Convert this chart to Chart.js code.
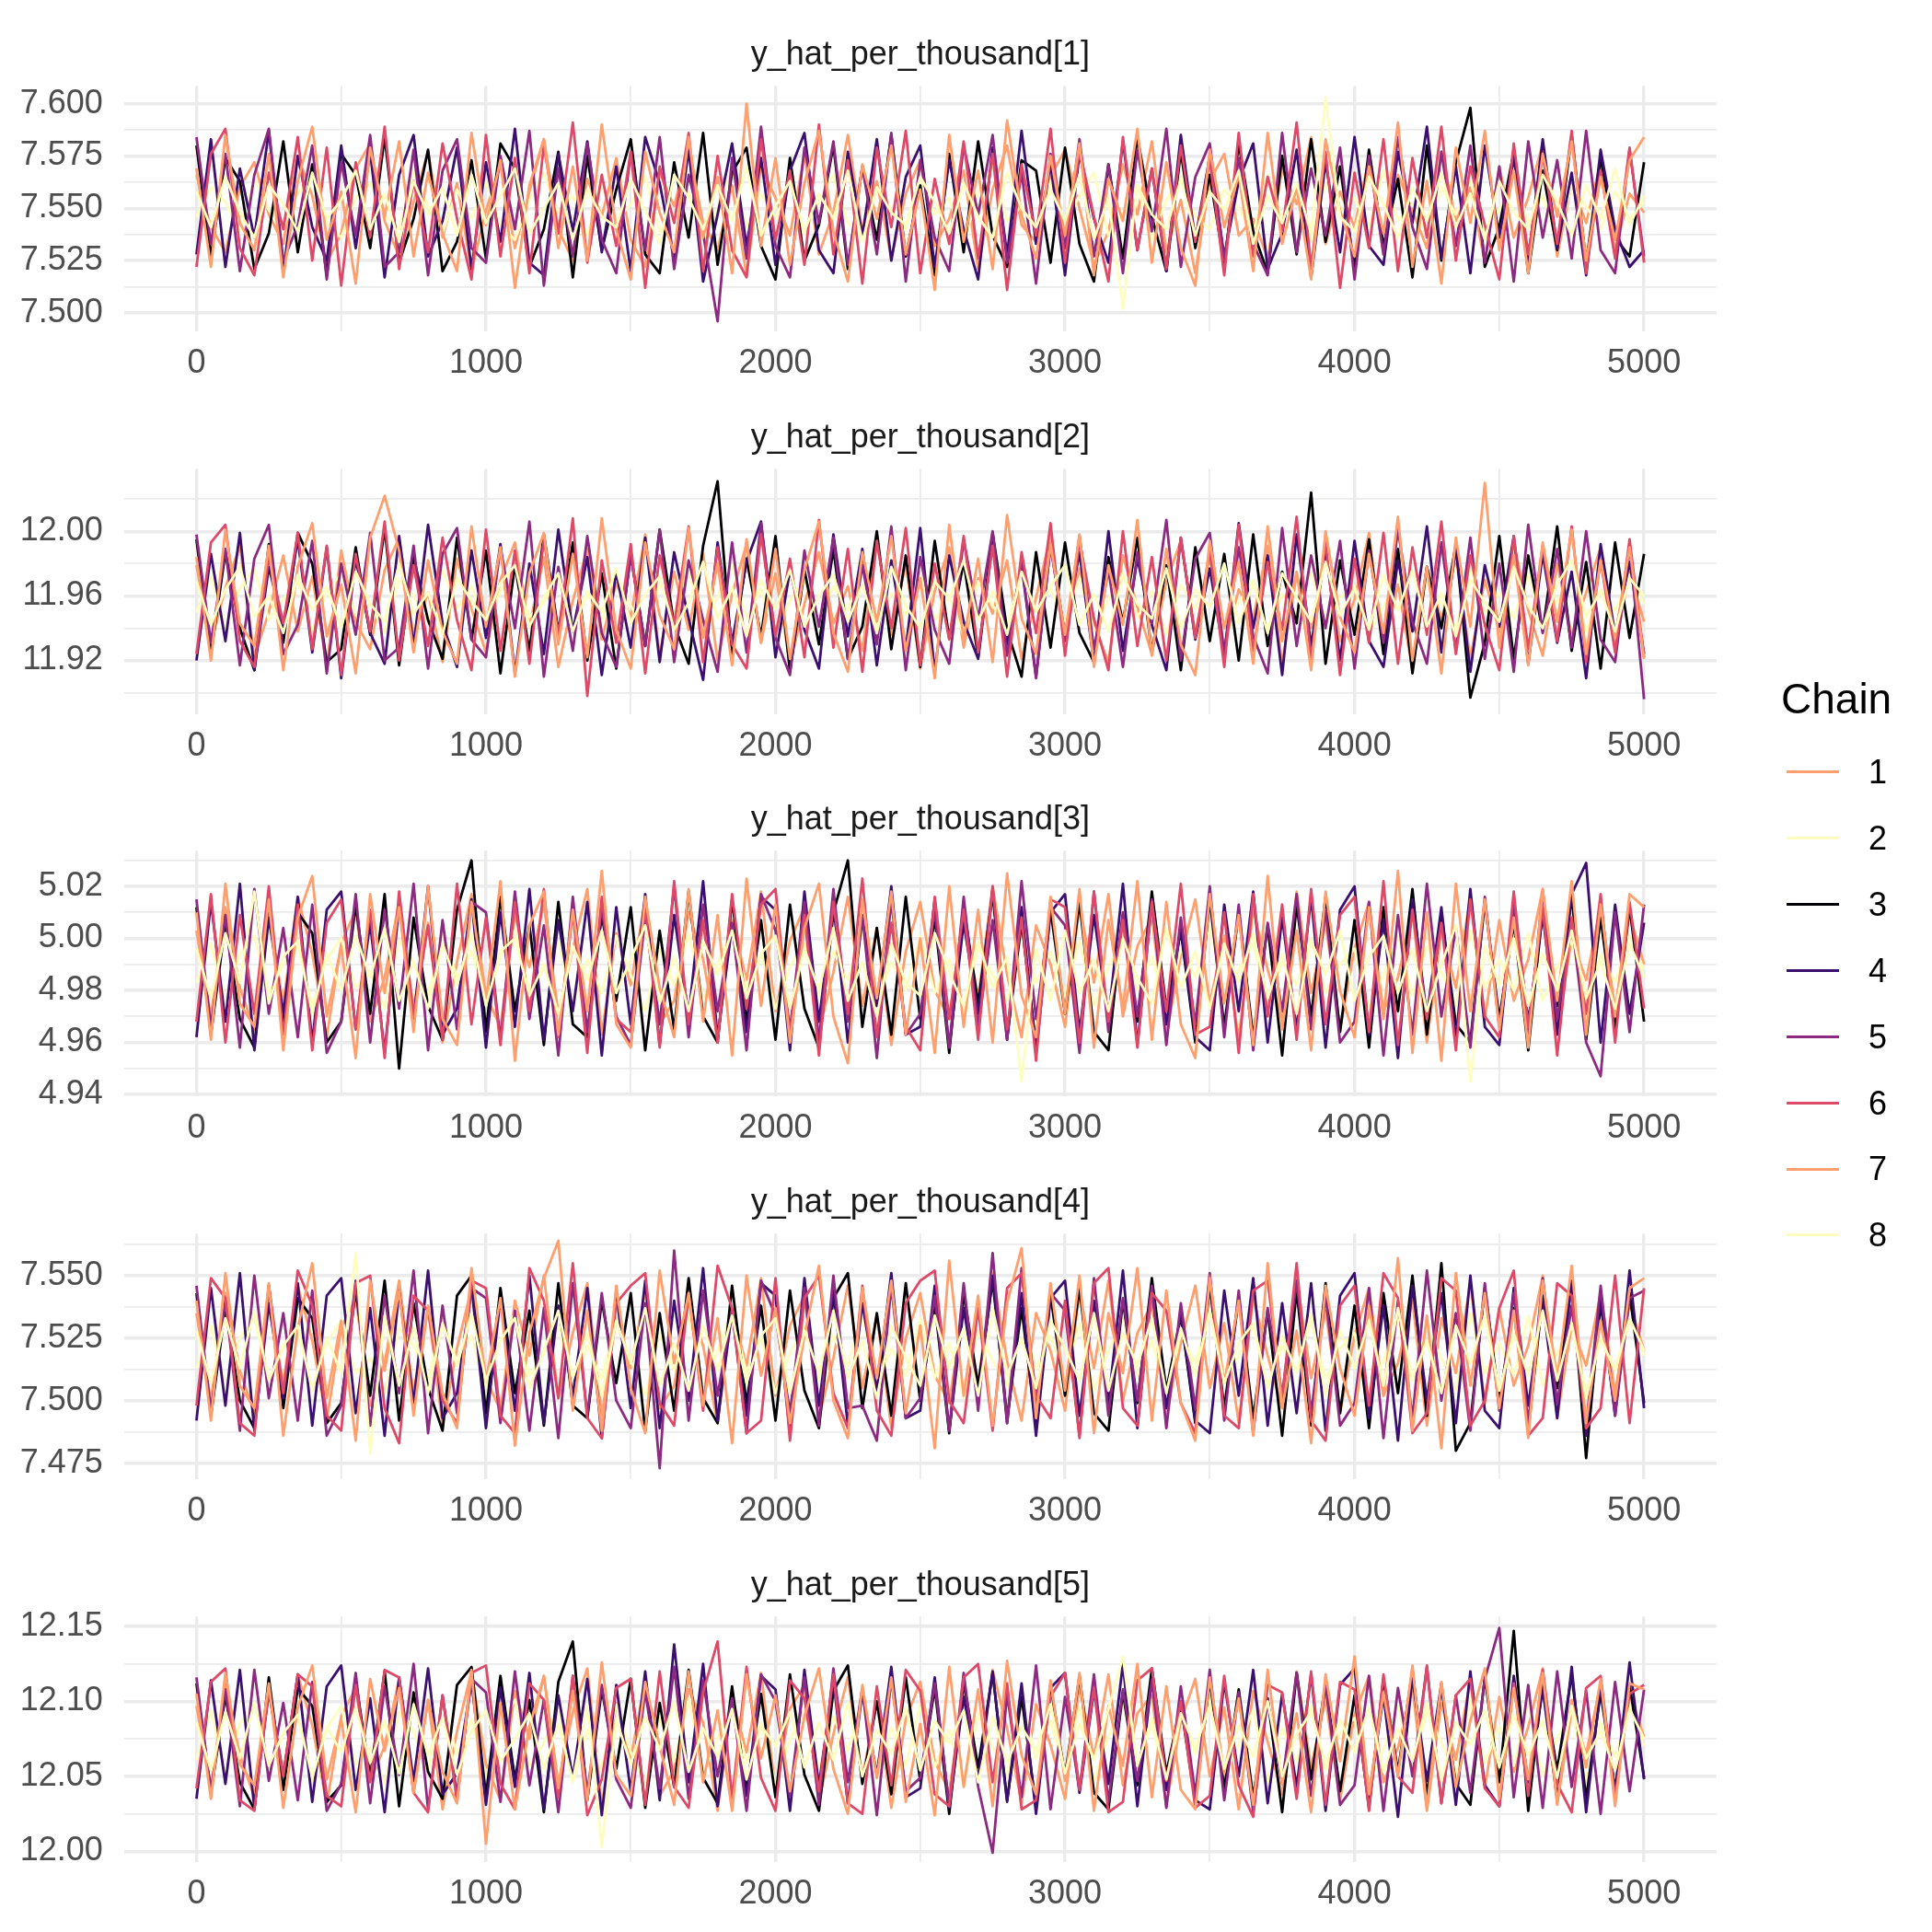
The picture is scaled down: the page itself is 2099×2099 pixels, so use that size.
<!DOCTYPE html>
<html>
<head>
<meta charset="utf-8">
<script src="https://cdn.jsdelivr.net/npm/chart.js@4/dist/chart.umd.min.js"></script>
<style>
body{margin:0;background:#fff;width:2099px;height:2099px;position:relative;overflow:hidden;font-family:"Liberation Sans",Arial,sans-serif}
.panel{position:absolute;left:0;width:2099px}
.legend-title{position:absolute;left:1935px;top:736px;font-size:46px;line-height:46px;color:#000;white-space:nowrap}
.legend-key{position:absolute;left:1941px;width:57px;height:3px}
.legend-label{position:absolute;left:2030px;font-size:36px;line-height:36px;color:#000}
</style>
</head>
<body>
<script>
const FONT = '"Liberation Sans", Arial, sans-serif';

// iterations drawn for every chain (every 50th draw)
const iterations = [0,50,100,150,200,250,300,350,400,450,
500,550,600,650,700,750,800,850,900,950,
1000,1050,1100,1150,1200,1250,1300,1350,1400,1450,
1500,1550,1600,1650,1700,1750,1800,1850,1900,1950,
2000,2050,2100,2150,2200,2250,2300,2350,2400,2450,
2500,2550,2600,2650,2700,2750,2800,2850,2900,2950,
3000,3050,3100,3150,3200,3250,3300,3350,3400,3450,
3500,3550,3600,3650,3700,3750,3800,3850,3900,3950,
4000,4050,4100,4150,4200,4250,4300,4350,4400,4450,
4500,4550,4600,4650,4700,4750,4800,4850,4900,4950,
5000];

const chainNames = ['1','2','3','4','5','6','7','8'];
const chainColors = ['#FE9F6D','#FCFDBF','#000004','#3B0F70','#8C2981','#DE4968','#FE9F6D','#FCFDBF'];

const panelTitles = ['y_hat_per_thousand[1]','y_hat_per_thousand[2]','y_hat_per_thousand[3]','y_hat_per_thousand[4]','y_hat_per_thousand[5]'];

const xTicks = [0,1000,2000,3000,4000,5000];

const yTicks1 = [7.500,7.525,7.550,7.575,7.600];
const yLabels1 = ['7.500','7.525','7.550','7.575','7.600'];
const yTicks2 = [11.92,11.96,12.00];
const yLabels2 = ['11.92','11.96','12.00'];
const yTicks3 = [4.94,4.96,4.98,5.00,5.02];
const yLabels3 = ['4.94','4.96','4.98','5.00','5.02'];
const yTicks4 = [7.475,7.500,7.525,7.550];
const yLabels4 = ['7.475','7.500','7.525','7.550'];
const yTicks5 = [12.00,12.05,12.10,12.15];
const yLabels5 = ['12.00','12.05','12.10','12.15'];

const yRange1 = [7.4912, 7.6085];
const yRange2 = [11.8867, 12.0387];
const yRange3 = [4.9393, 5.0337];
const yRange4 = [7.4686, 7.5668];
const yRange5 = [11.9928, 12.1566];

// y_hat_per_thousand[1]
const y1_c1 = [7.566,7.541,7.529,7.560,7.572,7.547,7.533,7.575,7.556,7.524,
7.538,7.569,7.581,7.544,7.527,7.553,7.577,7.536,7.562,7.520,
7.549,7.571,7.531,7.558,7.583,7.540,7.525,7.564,7.546,7.574,
7.535,7.522,7.567,7.551,7.579,7.543,7.530,7.561,7.518,7.570,
7.555,7.537,7.576,7.528,7.548,7.585,7.539,7.563,7.526,7.557,
7.573,7.532,7.545,7.568,7.521,7.559,7.580,7.542,7.534,7.565,
7.578,7.550,7.523,7.539,7.571,7.547,7.582,7.529,7.554,7.519,
7.563,7.576,7.537,7.545,7.526,7.569,7.552,7.584,7.533,7.558,
7.541,7.574,7.528,7.566,7.549,7.531,7.577,7.544,7.560,7.524,
7.570,7.536,7.555,7.581,7.527,7.562,7.543,7.572,7.530,7.557,
7.548];
const y1_c2 = [7.546,7.560,7.553,7.539,7.564,7.549,7.541,7.557,7.566,7.543,
7.536,7.555,7.562,7.547,7.540,7.568,7.551,7.538,7.559,7.545,
7.563,7.542,7.535,7.554,7.567,7.548,7.556,7.537,7.561,7.544,
7.552,7.565,7.539,7.546,7.558,7.534,7.550,7.569,7.541,7.557,
7.545,7.562,7.538,7.553,7.566,7.543,7.536,7.560,7.549,7.540,
7.564,7.547,7.555,7.533,7.558,7.570,7.544,7.551,7.539,7.563,
7.542,7.556,7.567,7.537,7.548,7.561,7.535,7.554,7.565,7.546,
7.540,7.559,7.550,7.538,7.566,7.545,7.557,7.534,7.562,7.548,
7.555,7.541,7.568,7.544,7.552,7.537,7.560,7.547,7.563,7.539,
7.549,7.566,7.543,7.556,7.535,7.561,7.551,7.540,7.558,7.545,
7.553];
const y1_c3 = [7.580,7.527,7.574,7.563,7.521,7.538,7.582,7.529,7.571,7.518,
7.576,7.566,7.531,7.584,7.524,7.545,7.578,7.520,7.534,7.573,
7.526,7.581,7.569,7.522,7.540,7.577,7.517,7.575,7.530,7.559,
7.583,7.528,7.519,7.572,7.536,7.586,7.523,7.567,7.579,7.532,
7.516,7.574,7.525,7.542,7.580,7.521,7.570,7.535,7.585,7.527,
7.561,7.518,7.576,7.529,7.582,7.537,7.522,7.573,7.568,7.524,
7.579,7.533,7.515,7.571,7.526,7.584,7.546,7.520,7.577,7.531,
7.566,7.523,7.581,7.539,7.519,7.575,7.528,7.583,7.534,7.570,
7.521,7.578,7.532,7.564,7.517,7.580,7.525,7.572,7.598,7.522,
7.541,7.577,7.519,7.568,7.530,7.585,7.524,7.574,7.536,7.527,
7.572];
const y1_c4 = [7.528,7.583,7.522,7.569,7.536,7.587,7.519,7.575,7.541,7.525,
7.580,7.531,7.577,7.517,7.566,7.585,7.527,7.544,7.579,7.521,
7.572,7.534,7.588,7.524,7.518,7.576,7.539,7.582,7.529,7.570,
7.520,7.584,7.562,7.526,7.578,7.515,7.547,7.581,7.532,7.574,
7.523,7.568,7.586,7.530,7.519,7.577,7.537,7.583,7.525,7.565,
7.580,7.522,7.573,7.540,7.516,7.579,7.528,7.587,7.533,7.571,
7.518,7.576,7.545,7.524,7.582,7.530,7.569,7.520,7.585,7.535,
7.575,7.527,7.563,7.581,7.521,7.538,7.578,7.517,7.572,7.529,
7.584,7.532,7.523,7.577,7.543,7.589,7.526,7.570,7.519,7.580,
7.536,7.574,7.525,7.583,7.531,7.567,7.518,7.578,7.540,7.522,
7.530];
const y1_c5 = [7.584,7.533,7.576,7.520,7.566,7.588,7.525,7.542,7.580,7.516,
7.572,7.537,7.585,7.522,7.529,7.578,7.518,7.568,7.583,7.531,
7.524,7.575,7.540,7.587,7.513,7.569,7.527,7.581,7.535,7.519,
7.577,7.530,7.584,7.521,7.566,7.538,7.496,7.574,7.526,7.589,
7.532,7.517,7.579,7.543,7.582,7.523,7.570,7.528,7.586,7.515,
7.573,7.536,7.520,7.580,7.547,7.585,7.524,7.567,7.514,7.576,
7.531,7.583,7.527,7.571,7.519,7.578,7.539,7.588,7.522,7.565,
7.581,7.525,7.574,7.533,7.518,7.586,7.529,7.569,7.537,7.579,
7.516,7.575,7.528,7.584,7.541,7.521,7.577,7.532,7.580,7.524,
7.570,7.515,7.582,7.536,7.573,7.526,7.587,7.530,7.519,7.578,
7.527];
const y1_c6 = [7.522,7.576,7.588,7.531,7.518,7.567,7.540,7.584,7.525,7.579,
7.513,7.572,7.536,7.589,7.521,7.563,7.529,7.581,7.545,7.516,
7.585,7.527,7.574,7.519,7.580,7.538,7.591,7.524,7.566,7.532,
7.577,7.512,7.570,7.543,7.586,7.520,7.575,7.530,7.517,7.583,
7.535,7.568,7.523,7.590,7.528,7.573,7.514,7.579,7.541,7.587,
7.519,7.564,7.533,7.582,7.526,7.576,7.511,7.571,7.537,7.588,
7.524,7.578,7.546,7.515,7.584,7.530,7.569,7.521,7.580,7.534,
7.573,7.518,7.586,7.527,7.565,7.539,7.591,7.522,7.577,7.512,
7.567,7.531,7.583,7.520,7.574,7.536,7.589,7.525,7.570,7.542,
7.516,7.581,7.528,7.575,7.533,7.587,7.519,7.568,7.526,7.579,
7.524];
const y1_c7 = [7.569,7.522,7.585,7.543,7.530,7.576,7.517,7.563,7.589,7.535,
7.558,7.514,7.579,7.546,7.582,7.527,7.567,7.538,7.520,7.586,
7.542,7.573,7.512,7.561,7.583,7.531,7.570,7.525,7.590,7.540,
7.516,7.577,7.548,7.529,7.584,7.536,7.565,7.519,7.600,7.532,
7.574,7.523,7.562,7.587,7.539,7.515,7.571,7.545,7.580,7.528,
7.559,7.511,7.585,7.534,7.568,7.521,7.592,7.547,7.526,7.575,
7.537,7.581,7.518,7.564,7.544,7.588,7.524,7.572,7.531,7.513,
7.578,7.541,7.566,7.520,7.586,7.533,7.560,7.516,7.583,7.549,
7.527,7.570,7.538,7.591,7.522,7.563,7.514,7.579,7.543,7.587,
7.530,7.568,7.519,7.576,7.546,7.582,7.525,7.565,7.535,7.573,
7.584];
const y1_c8 = [7.558,7.541,7.565,7.548,7.536,7.561,7.552,7.539,7.567,7.545,
7.554,7.568,7.540,7.557,7.534,7.563,7.547,7.560,7.537,7.566,
7.543,7.556,7.569,7.538,7.550,7.562,7.535,7.559,7.546,7.541,
7.564,7.549,7.533,7.566,7.555,7.540,7.561,7.544,7.570,7.537,
7.551,7.563,7.539,7.557,7.545,7.568,7.534,7.560,7.548,7.542,
7.565,7.553,7.538,7.562,7.546,7.536,7.567,7.550,7.541,7.559,
7.544,7.566,7.535,7.555,7.502,7.561,7.547,7.540,7.564,7.537,
7.558,7.549,7.568,7.533,7.556,7.543,7.562,7.538,7.603,7.546,
7.539,7.565,7.552,7.536,7.560,7.544,7.567,7.541,7.557,7.535,
7.563,7.548,7.540,7.566,7.553,7.537,7.561,7.545,7.569,7.542,
7.556];

// y_hat_per_thousand[2]
const y2_c1 = [11.979,11.930,11.965,11.991,11.922,11.950,11.985,11.938,11.972,11.917,
11.988,11.944,11.927,11.976,11.996,11.935,11.962,11.919,11.983,11.952,
11.925,11.970,11.993,11.941,11.984,11.916,11.957,11.989,11.933,11.968,
11.947,11.998,11.923,11.975,11.939,11.986,11.920,11.961,11.992,11.931,
11.974,11.918,11.955,11.987,11.943,11.966,11.926,11.995,11.936,11.980,
11.915,11.963,11.990,11.928,11.971,11.949,11.982,11.921,11.959,11.997,
11.934,11.977,11.942,11.919,11.985,11.953,11.924,11.969,11.994,11.937,
11.981,11.929,11.964,11.946,11.991,11.918,11.973,11.940,11.987,11.932,
11.958,11.999,11.926,11.967,11.914,11.978,11.945,11.984,11.921,11.970,
11.938,11.993,11.951,11.923,11.980,11.935,11.962,11.990,11.927,11.975,
11.944];
const y2_c2 = [11.950,11.972,11.941,11.965,11.977,11.945,11.958,11.969,11.938,11.962,
11.974,11.948,11.955,11.937,11.970,11.960,11.943,11.976,11.952,11.966,
11.940,11.963,11.978,11.947,11.956,11.971,11.939,11.961,11.944,11.973,
11.954,11.936,11.968,11.949,11.975,11.942,11.959,11.979,11.946,11.964,
11.937,11.957,11.970,11.943,11.966,11.951,11.977,11.940,11.962,11.948,
11.973,11.945,11.960,11.935,11.969,11.954,11.941,11.976,11.950,11.965,
11.944,11.971,11.938,11.958,11.974,11.947,11.963,11.936,11.967,11.952,
11.978,11.942,11.956,11.970,11.939,11.961,11.948,11.975,11.945,11.959,
11.966,11.937,11.953,11.972,11.943,11.968,11.955,11.940,11.977,11.949,
11.962,11.946,11.974,11.941,11.957,11.969,11.938,11.964,11.951,11.973,
11.955];
const y2_c3 = [11.995,11.924,11.987,11.940,11.914,11.992,11.931,11.999,11.980,11.919,
11.927,11.990,11.936,12.002,11.917,11.984,11.945,11.921,11.996,11.933,
11.988,11.912,11.979,11.926,11.998,11.938,11.993,11.920,11.974,11.915,
11.986,11.929,12.001,11.942,11.918,11.991,12.031,11.923,11.983,11.935,
11.997,11.913,11.976,11.930,11.989,11.921,11.941,12.000,11.927,11.985,
11.916,11.994,11.934,11.981,11.922,11.999,11.939,11.910,11.987,11.928,
11.993,11.937,11.919,11.984,11.944,11.996,11.925,11.979,11.914,11.990,
11.932,11.986,11.920,11.998,11.929,11.975,11.943,12.024,11.918,11.982,
11.936,11.995,11.924,11.989,11.912,11.978,11.940,11.992,11.897,11.931,
11.997,11.921,11.985,11.938,12.003,11.926,11.981,11.915,11.993,11.934,
11.986];
const y2_c4 = [11.920,11.986,11.932,11.999,11.914,11.978,11.941,11.995,11.925,11.990,
11.909,11.983,11.937,11.918,11.997,11.929,12.004,11.943,11.916,11.988,
11.934,11.992,11.912,11.980,11.924,12.001,11.938,11.984,11.911,11.975,
11.928,11.996,11.919,11.987,11.946,11.908,11.993,11.931,11.981,12.006,
11.922,11.976,11.939,11.915,11.998,11.935,11.989,11.917,11.982,11.927,
12.002,11.913,11.985,11.944,11.921,11.994,11.930,11.979,11.910,11.991,
11.936,11.987,11.918,12.000,11.926,11.983,11.942,11.914,11.996,11.933,
11.977,11.923,12.005,11.940,11.985,11.911,11.998,11.929,11.989,11.920,
11.994,11.932,11.916,11.982,11.938,12.003,11.925,11.990,11.913,11.979,
11.941,11.997,11.918,11.986,11.931,11.975,11.909,11.992,11.936,11.981,
11.924];
const y2_c5 = [11.998,11.931,11.989,11.917,11.983,12.004,11.924,11.942,11.994,11.912,
11.980,11.936,11.999,11.920,11.928,11.991,11.915,11.986,12.002,11.933,
11.922,11.990,11.940,12.006,11.910,11.978,11.926,11.997,11.937,11.916,
11.985,11.929,12.001,11.919,11.982,11.945,11.913,11.993,11.925,12.005,
11.934,11.911,11.988,11.941,11.996,11.921,11.979,11.930,12.003,11.914,
11.984,11.939,11.918,11.995,11.946,12.000,11.923,11.981,11.909,11.992,
11.932,11.997,11.927,11.976,11.916,11.987,11.943,12.007,11.920,11.983,
11.999,11.924,11.990,11.935,11.912,12.002,11.929,11.985,11.940,11.994,
11.915,11.988,11.931,12.001,11.944,11.918,11.993,11.926,11.996,11.921,
11.980,11.913,12.004,11.937,11.989,11.928,12.000,11.933,11.919,11.991,
11.896];
const y2_c6 = [11.924,11.993,12.004,11.932,11.916,11.984,11.943,11.999,11.927,11.991,
11.911,11.986,11.938,12.006,11.920,11.979,11.929,11.996,11.945,11.914,
12.001,11.926,11.988,11.918,11.995,11.936,12.008,11.898,11.982,11.931,
11.992,11.912,11.985,11.942,12.003,11.919,11.990,11.930,11.915,11.998,
11.935,11.983,11.922,12.007,11.928,11.989,11.913,11.994,11.940,12.002,
11.917,11.980,11.933,11.997,11.925,11.991,11.910,11.987,11.937,12.005,
11.923,11.994,11.946,11.914,12.000,11.929,11.984,11.920,11.996,11.934,
11.988,11.916,12.004,11.926,11.981,11.939,12.009,11.921,11.993,11.911,
11.983,11.931,11.999,11.918,11.990,11.936,12.006,11.924,11.985,11.942,
11.914,11.997,11.927,11.991,11.932,12.003,11.919,11.982,11.925,11.995,
11.922];
const y2_c7 = [11.984,11.920,12.001,11.943,11.929,11.991,11.914,11.978,12.005,11.935,
11.967,11.912,11.996,12.022,11.988,11.925,11.982,11.938,11.918,12.003,
11.941,11.990,11.910,11.974,11.999,11.930,11.986,11.922,12.008,11.939,
11.915,11.993,11.948,11.927,12.002,11.934,11.980,11.917,11.995,11.931,
11.989,11.921,11.976,12.006,11.937,11.913,11.987,11.944,11.997,11.926,
11.971,11.909,12.004,11.933,11.983,11.919,12.010,11.946,11.924,11.992,
11.936,11.998,11.916,11.979,11.942,12.007,11.923,11.989,11.930,11.911,
11.994,11.940,11.981,11.918,12.003,11.932,11.975,11.914,12.000,11.947,
11.925,11.986,11.937,12.009,11.920,11.978,11.912,11.996,11.941,12.030,
11.928,11.985,11.917,11.993,11.944,12.001,11.924,11.982,11.934,11.990,
11.921];
const y2_c8 = [11.969,11.942,11.964,11.978,11.947,11.960,11.937,11.973,11.951,11.966,
11.940,11.975,11.955,11.944,11.980,11.949,11.962,11.936,11.971,11.957,
11.945,11.968,11.979,11.941,11.959,11.974,11.938,11.963,11.950,11.977,
11.943,11.961,11.972,11.939,11.956,11.981,11.946,11.965,11.935,11.970,
11.952,11.976,11.941,11.960,11.973,11.944,11.967,11.937,11.978,11.954,
11.940,11.969,11.958,11.982,11.945,11.963,11.936,11.975,11.950,11.966,
11.979,11.942,11.961,11.938,11.972,11.955,11.946,11.977,11.940,11.964,
11.953,11.980,11.943,11.968,11.937,11.974,11.959,11.944,11.981,11.948,
11.965,11.939,11.973,11.951,11.976,11.941,11.962,11.935,11.970,11.956,
11.944,11.978,11.954,11.940,11.967,11.982,11.947,11.963,11.938,11.971,
11.960];

// y_hat_per_thousand[3]
const y3_c1 = [5.003,4.970,5.012,4.981,4.965,5.008,4.975,5.016,4.994,4.962,
4.998,5.011,4.968,4.985,5.014,4.973,5.006,4.960,4.991,5.017,
4.978,4.966,5.009,4.989,5.013,4.971,4.996,5.019,4.963,5.002,
4.982,5.015,4.967,4.976,5.010,4.992,4.961,5.007,4.984,5.018,
4.972,4.999,5.012,4.964,4.987,5.016,4.974,5.004,4.959,4.995,
5.014,4.980,4.969,5.009,4.977,5.020,4.986,4.962,5.005,4.990,
4.966,5.013,4.983,5.017,4.970,4.997,5.008,4.963,4.993,5.015,
4.975,5.001,4.961,5.011,4.988,4.968,5.018,4.979,5.006,4.965,
4.996,5.014,4.972,4.985,5.010,4.960,5.003,4.981,5.016,4.969,
5.007,4.976,4.992,5.019,4.964,5.000,4.984,5.012,4.973,5.009,
4.990];
const y3_c2 = [4.983,4.998,4.976,4.994,5.001,4.979,4.990,4.997,4.974,4.992,
5.000,4.981,4.987,4.973,4.999,4.991,4.978,5.002,4.985,4.995,
4.975,4.993,5.003,4.980,4.988,4.999,4.974,4.992,4.979,5.001,
4.986,4.972,4.996,4.982,5.002,4.977,4.990,5.004,4.981,4.994,
4.973,4.989,4.998,4.978,4.995,4.984,5.003,4.975,4.991,4.980,
5.001,4.979,4.992,4.971,4.997,4.986,4.976,5.002,4.983,4.995,
4.978,4.999,4.974,4.989,5.001,4.980,4.993,4.972,4.996,4.985,
5.004,4.977,4.988,4.998,4.975,4.991,4.982,5.000,4.979,4.990,
4.996,4.973,4.986,5.001,4.978,4.997,4.987,4.974,5.003,4.981,
4.992,4.980,5.002,4.976,4.989,4.999,4.973,4.994,4.983,5.001,
4.988];
const y3_c3 = [5.012,4.963,5.006,4.969,4.958,5.015,4.966,5.010,5.002,4.960,
4.968,5.013,4.971,5.017,4.950,5.008,4.974,4.961,5.011,5.030,
4.964,5.016,4.972,5.005,4.959,5.014,4.967,4.962,5.009,4.976,
5.012,4.957,5.003,4.965,5.018,4.970,4.960,5.015,4.968,5.007,
4.961,5.013,4.973,4.958,5.010,5.030,4.966,5.004,4.963,5.016,
4.969,5.008,4.956,5.012,4.975,5.017,4.962,5.006,4.959,5.011,
4.971,5.014,4.964,4.957,5.009,4.968,5.018,4.973,5.003,4.960,
5.015,4.966,5.010,4.962,5.005,4.955,5.013,4.970,5.016,4.964,
5.007,4.958,5.012,4.972,5.019,4.963,5.009,4.967,4.960,5.014,
4.969,5.006,4.957,5.011,4.974,5.016,4.961,5.008,4.965,5.012,
4.968];
const y3_c4 = [4.962,5.014,4.968,5.021,4.957,5.008,4.971,5.016,4.960,5.011,
5.018,4.965,5.006,4.956,5.013,4.969,5.020,4.963,4.973,5.015,
4.958,5.010,4.966,5.019,4.961,5.007,4.972,5.014,4.955,5.012,
4.967,5.017,4.959,5.009,4.970,5.022,4.962,5.005,4.964,5.016,
5.011,4.957,5.018,4.968,5.013,4.960,5.008,4.974,5.020,4.963,
4.966,5.015,4.958,5.006,4.971,5.019,4.961,5.012,4.956,5.010,
5.017,4.964,5.009,4.969,5.021,4.959,5.014,4.967,5.004,4.962,
4.957,5.013,4.972,5.018,4.960,5.008,4.965,5.016,4.958,5.011,
5.020,4.963,5.007,4.954,5.015,4.970,5.012,4.961,5.019,4.966,
4.959,5.014,4.968,5.009,4.963,5.017,5.029,4.960,5.013,4.971,
5.006];
const y3_c5 = [5.015,4.966,5.009,4.958,5.019,4.971,5.004,4.962,5.013,4.956,
4.968,5.017,4.960,5.011,4.973,5.021,4.957,5.007,4.965,5.014,
5.010,4.961,5.018,4.969,5.005,4.955,5.016,4.964,5.012,4.970,
4.959,5.008,4.967,5.020,4.962,5.013,4.972,5.006,4.957,5.017,
5.003,4.965,5.014,4.960,5.019,4.968,5.009,4.954,5.015,4.963,
4.971,5.011,4.958,5.016,4.966,5.007,4.961,5.022,4.969,5.012,
5.005,4.956,5.018,4.964,5.010,4.970,5.015,4.959,5.008,4.967,
5.020,4.962,5.013,4.957,5.006,4.972,5.017,4.965,5.011,4.960,
4.968,5.014,4.955,5.009,4.963,5.021,4.970,5.004,4.958,5.016,
4.966,5.012,4.961,5.018,4.969,5.007,4.960,4.947,5.010,4.964,
5.013];
const y3_c6 = [4.968,5.017,4.960,5.009,4.971,5.020,4.963,5.013,4.957,5.006,
5.015,4.965,5.011,4.954,5.018,4.970,5.005,4.961,5.021,4.967,
5.008,4.959,5.014,4.972,5.019,4.962,5.010,4.956,5.016,4.969,
4.964,5.012,4.958,5.022,4.967,5.007,4.960,5.017,4.973,5.013,
5.019,4.963,5.009,4.955,5.014,4.971,5.023,4.962,5.006,4.966,
4.957,5.016,4.969,5.011,4.961,5.020,4.965,5.008,4.953,5.015,
5.012,4.960,5.018,4.968,5.007,4.958,5.014,4.972,5.021,4.963,
4.966,5.010,4.956,5.017,4.970,5.013,4.961,5.019,4.967,5.009,
5.016,4.964,5.022,4.959,5.011,4.969,5.006,4.957,5.015,4.970,
4.962,5.018,4.966,5.012,4.955,5.008,4.971,5.017,4.960,5.014,
4.973];
const y3_c7 = [5.010,4.961,5.021,4.975,4.966,5.015,4.957,5.008,5.024,4.970,
4.997,4.954,5.017,4.979,5.012,4.964,5.020,4.969,4.959,5.014,
4.976,5.022,4.953,5.005,5.018,4.963,5.011,4.972,5.026,4.967,
4.958,5.016,4.981,4.962,5.019,4.968,5.009,4.955,5.023,4.974,
5.013,4.960,5.004,5.021,4.970,4.952,5.015,4.977,5.018,4.963,
5.000,4.956,5.020,4.966,5.011,4.960,5.025,4.978,4.962,5.016,
4.971,5.019,4.958,5.007,4.973,5.022,4.961,5.014,4.967,4.954,
5.017,4.975,5.009,4.959,5.024,4.965,5.003,4.957,5.018,4.980,
4.962,5.012,4.969,5.026,4.956,5.010,4.953,5.021,4.972,5.015,
4.965,5.008,4.958,5.019,4.976,5.022,4.963,5.013,4.970,5.017,
5.012];
const y3_c8 = [4.996,4.977,5.002,4.983,5.018,4.975,4.993,4.999,4.971,4.994,
4.980,5.001,4.985,5.004,4.976,4.991,4.973,4.998,4.982,5.002,
4.974,4.995,5.000,4.978,4.990,4.971,4.997,4.984,5.003,4.979,
4.992,5.005,4.975,4.993,4.972,4.999,4.986,5.003,4.977,4.994,
5.001,4.973,4.996,4.980,5.004,4.976,4.991,4.970,4.998,4.983,
4.978,5.002,4.987,4.974,4.999,4.981,4.993,4.945,4.996,4.976,
5.003,4.979,4.992,4.972,5.000,4.985,4.975,5.004,4.981,4.995,
4.973,4.998,4.983,5.002,4.977,4.994,4.971,4.999,4.986,5.003,
4.976,4.993,5.001,4.979,4.996,4.972,4.990,5.005,4.945,4.997,
4.982,5.000,4.974,4.994,4.980,5.003,4.977,4.991,4.973,4.998,
4.985];

// y_hat_per_thousand[4]
const y4_c1 = [7.535,7.500,7.543,7.512,7.495,7.538,7.507,7.546,7.524,7.492,
7.529,7.541,7.498,7.515,7.548,7.503,7.537,7.490,7.521,7.545,
7.509,7.496,7.540,7.518,7.550,7.501,7.527,7.547,7.494,7.533,
7.513,7.544,7.497,7.506,7.539,7.522,7.491,7.536,7.514,7.549,
7.502,7.530,7.542,7.493,7.517,7.546,7.505,7.534,7.489,7.525,
7.543,7.510,7.499,7.538,7.507,7.551,7.516,7.492,7.535,7.520,
7.496,7.544,7.513,7.548,7.500,7.527,7.539,7.494,7.523,7.546,
7.505,7.531,7.491,7.541,7.518,7.497,7.549,7.509,7.536,7.495,
7.526,7.545,7.502,7.515,7.540,7.490,7.533,7.511,7.547,7.499,
7.537,7.506,7.522,7.550,7.493,7.530,7.514,7.543,7.503,7.539,
7.520];
const y4_c2 = [7.513,7.530,7.506,7.525,7.533,7.509,7.521,7.528,7.504,7.523,
7.532,7.511,7.517,7.503,7.529,7.522,7.508,7.534,7.515,7.526,
7.505,7.524,7.535,7.510,7.519,7.530,7.504,7.522,7.509,7.533,
7.516,7.502,7.527,7.512,7.534,7.507,7.520,7.536,7.511,7.525,
7.503,7.519,7.530,7.508,7.526,7.514,7.535,7.505,7.521,7.510,
7.533,7.509,7.523,7.501,7.528,7.516,7.506,7.534,7.513,7.526,
7.508,7.531,7.504,7.520,7.533,7.510,7.524,7.502,7.527,7.515,
7.536,7.507,7.518,7.530,7.505,7.522,7.512,7.532,7.509,7.521,
7.527,7.503,7.516,7.533,7.508,7.529,7.517,7.504,7.535,7.511,
7.523,7.510,7.534,7.506,7.519,7.531,7.503,7.525,7.513,7.532,
7.518];
const y4_c3 = [7.543,7.494,7.537,7.500,7.489,7.546,7.497,7.541,7.533,7.491,
7.499,7.544,7.502,7.548,7.492,7.539,7.505,7.488,7.542,7.550,
7.495,7.545,7.503,7.536,7.490,7.547,7.498,7.493,7.540,7.507,
7.543,7.488,7.535,7.496,7.549,7.501,7.491,7.546,7.499,7.538,
7.492,7.544,7.504,7.489,7.541,7.551,7.497,7.535,7.494,7.547,
7.500,7.539,7.487,7.543,7.506,7.548,7.493,7.537,7.490,7.542,
7.502,7.545,7.495,7.488,7.540,7.499,7.549,7.504,7.534,7.491,
7.546,7.497,7.541,7.493,7.536,7.486,7.544,7.490,7.547,7.495,
7.538,7.489,7.543,7.503,7.550,7.494,7.555,7.480,7.491,7.545,
7.500,7.537,7.488,7.542,7.505,7.547,7.477,7.539,7.496,7.543,
7.499];
const y4_c4 = [7.492,7.545,7.498,7.551,7.488,7.539,7.501,7.547,7.490,7.542,
7.549,7.495,7.537,7.486,7.544,7.499,7.552,7.493,7.503,7.546,
7.489,7.541,7.496,7.550,7.491,7.538,7.502,7.545,7.485,7.543,
7.497,7.548,7.489,7.540,7.500,7.553,7.492,7.536,7.494,7.547,
7.542,7.487,7.549,7.498,7.544,7.490,7.539,7.504,7.551,7.493,
7.496,7.546,7.488,7.537,7.501,7.550,7.491,7.543,7.486,7.541,
7.548,7.494,7.540,7.499,7.552,7.489,7.545,7.497,7.535,7.492,
7.487,7.544,7.502,7.549,7.490,7.539,7.495,7.547,7.488,7.542,
7.551,7.493,7.538,7.484,7.546,7.500,7.543,7.491,7.550,7.496,
7.489,7.545,7.498,7.540,7.493,7.548,7.486,7.541,7.494,7.552,
7.497];
const y4_c5 = [7.546,7.496,7.540,7.488,7.550,7.501,7.535,7.492,7.544,7.486,
7.498,7.548,7.490,7.542,7.503,7.552,7.487,7.538,7.495,7.545,
7.541,7.491,7.536,7.488,7.537,7.485,7.547,7.494,7.543,7.500,
7.489,7.539,7.473,7.560,7.492,7.544,7.502,7.536,7.487,7.548,
7.534,7.495,7.545,7.490,7.550,7.497,7.498,7.484,7.546,7.493,
7.501,7.542,7.488,7.547,7.496,7.559,7.491,7.553,7.499,7.543,
7.536,7.486,7.549,7.494,7.541,7.500,7.546,7.489,7.539,7.497,
7.551,7.492,7.544,7.487,7.537,7.502,7.548,7.495,7.542,7.490,
7.499,7.545,7.485,7.540,7.493,7.552,7.500,7.535,7.488,7.547,
7.496,7.543,7.491,7.549,7.499,7.538,7.490,7.546,7.494,7.541,
7.544];
const y4_c6 = [7.498,7.549,7.541,7.491,7.486,7.546,7.503,7.552,7.538,7.494,
7.488,7.547,7.550,7.497,7.483,7.542,7.536,7.500,7.491,7.548,
7.545,7.494,7.487,7.553,7.540,7.501,7.555,7.493,7.485,7.539,
7.546,7.551,7.499,7.490,7.543,7.496,7.554,7.537,7.487,7.492,
7.549,7.484,7.541,7.550,7.503,7.489,7.546,7.496,7.486,7.539,
7.548,7.552,7.500,7.491,7.537,7.488,7.545,7.551,7.502,7.493,
7.540,7.485,7.547,7.553,7.497,7.490,7.543,7.536,7.499,7.487,
7.550,7.494,7.489,7.544,7.548,7.501,7.555,7.492,7.484,7.538,
7.546,7.498,7.551,7.541,7.487,7.495,7.549,7.544,7.490,7.500,
7.537,7.552,7.486,7.493,7.547,7.542,7.489,7.497,7.550,7.491,
7.545];
const y4_c7 = [7.540,7.492,7.551,7.506,7.497,7.547,7.486,7.529,7.555,7.501,
7.532,7.484,7.548,7.512,7.544,7.494,7.538,7.503,7.489,7.553,
7.508,7.541,7.482,7.527,7.549,7.564,7.496,7.536,7.488,7.546,
7.505,7.487,7.552,7.515,7.543,7.498,7.533,7.483,7.550,7.510,
7.537,7.491,7.526,7.554,7.500,7.485,7.545,7.509,7.548,7.495,
7.530,7.481,7.556,7.502,7.542,7.490,7.539,7.561,7.493,7.547,
7.504,7.550,7.487,7.535,7.511,7.553,7.492,7.544,7.499,7.484,
7.549,7.507,7.540,7.486,7.555,7.497,7.528,7.483,7.546,7.513,
7.494,7.538,7.502,7.557,7.488,7.534,7.481,7.551,7.506,7.543,
7.497,7.536,7.485,7.548,7.509,7.554,7.491,7.532,7.500,7.545,
7.549];
const y4_c8 = [7.528,7.507,7.533,7.513,7.536,7.508,7.522,7.530,7.504,7.525,
7.511,7.559,7.479,7.534,7.506,7.529,7.503,7.531,7.514,7.535,
7.508,7.524,7.533,7.505,7.520,7.536,7.509,7.527,7.502,7.532,
7.515,7.537,7.506,7.523,7.504,7.530,7.512,7.534,7.507,7.526,
7.533,7.503,7.528,7.511,7.536,7.509,7.524,7.501,7.530,7.517,
7.506,7.534,7.513,7.529,7.502,7.537,7.510,7.525,7.505,7.532,
7.521,7.508,7.535,7.504,7.527,7.514,7.533,7.503,7.529,7.510,
7.536,7.507,7.523,7.531,7.505,7.526,7.511,7.535,7.502,7.528,
7.513,7.532,7.506,7.537,7.509,7.524,7.503,7.530,7.515,7.534,
7.504,7.527,7.510,7.536,7.508,7.531,7.501,7.525,7.512,7.533,
7.520];

// y_hat_per_thousand[5]
const y5_c1 = [12.097,12.043,12.112,12.064,12.036,12.105,12.052,12.118,12.084,12.031,
12.090,12.109,12.047,12.070,12.115,12.039,12.101,12.028,12.080,12.120,
12.058,12.034,12.107,12.075,12.117,12.045,12.093,12.122,12.030,12.099,
12.062,12.114,12.037,12.054,12.108,12.086,12.027,12.103,12.066,12.119,
12.041,12.095,12.111,12.033,12.078,12.116,12.049,12.100,12.029,12.088,
12.113,12.060,12.040,12.106,12.051,12.121,12.082,12.032,12.098,12.071,
12.035,12.110,12.063,12.118,12.044,12.092,12.104,12.030,12.087,12.115,
12.050,12.096,12.028,12.107,12.073,12.038,12.120,12.056,12.102,12.034,
12.091,12.117,12.046,12.069,12.109,12.027,12.099,12.061,12.114,12.042,
12.103,12.053,12.083,12.122,12.031,12.094,12.065,12.112,12.039,12.106,
12.076];
const y5_c2 = [12.061,12.094,12.050,12.085,12.099,12.056,12.078,12.091,12.047,12.082,
12.097,12.058,12.069,12.045,12.093,12.080,12.053,12.100,12.064,12.088,
12.049,12.084,12.101,12.057,12.072,12.095,12.046,12.081,12.055,12.098,
12.066,12.044,12.089,12.060,12.102,12.052,12.076,12.096,12.059,12.086,
12.045,12.074,12.094,12.054,12.090,12.067,12.100,12.048,12.083,12.057,
12.098,12.056,12.081,12.043,12.092,12.070,12.050,12.101,12.062,12.087,
12.053,12.096,12.047,12.077,12.099,12.058,12.085,12.044,12.091,12.065,
12.103,12.051,12.071,12.094,12.046,12.082,12.060,12.098,12.054,12.079,
12.089,12.045,12.068,12.097,12.055,12.093,12.073,12.049,12.101,12.059,
12.083,12.057,12.099,12.050,12.075,12.095,12.046,12.086,12.063,12.097,
12.070];
const y5_c3 = [12.112,12.039,12.104,12.046,12.028,12.116,12.041,12.109,12.097,12.033,
12.044,12.114,12.050,12.120,12.030,12.106,12.053,12.035,12.111,12.123,
12.037,12.117,12.048,12.101,12.026,12.113,12.140,12.034,12.108,12.055,
12.115,12.029,12.099,12.043,12.121,12.049,12.032,12.110,12.040,12.105,
12.036,12.118,12.051,12.027,12.107,12.124,12.045,12.100,12.038,12.116,
12.047,12.109,12.025,12.113,12.056,12.119,12.034,12.103,12.030,12.111,
12.050,12.117,12.039,12.028,12.106,12.044,12.122,12.052,12.098,12.033,
12.114,12.042,12.108,12.036,12.102,12.026,12.119,12.048,12.112,12.040,
12.104,12.029,12.115,12.053,12.121,12.037,12.110,12.045,12.031,12.116,
12.046,12.147,12.027,12.113,12.054,12.118,12.035,12.106,12.041,12.111,
12.049];
const y5_c4 = [12.035,12.114,12.045,12.121,12.029,12.107,12.050,12.118,12.033,12.110,
12.124,12.041,12.102,12.026,12.116,12.047,12.122,12.038,12.052,12.113,
12.031,12.109,12.043,12.119,12.028,12.104,12.049,12.115,12.024,12.111,
12.040,12.120,12.034,12.138,12.046,12.125,12.030,12.101,12.037,12.117,
12.108,12.027,12.121,12.044,12.114,12.032,12.106,12.051,12.123,12.036,
12.042,12.116,12.029,12.103,12.048,12.120,12.033,12.112,12.025,12.109,
12.119,12.039,12.107,12.045,12.125,12.030,12.115,12.041,12.100,12.034,
12.028,12.113,12.050,12.121,12.032,12.105,12.043,12.118,12.027,12.111,
12.122,12.037,12.104,12.023,12.116,12.047,12.112,12.031,12.120,12.044,
12.030,12.117,12.046,12.108,12.035,12.123,12.026,12.110,12.040,12.126,
12.048];
const y5_c5 = [12.116,12.040,12.108,12.030,12.121,12.047,12.099,12.034,12.113,12.027,
12.045,12.119,12.032,12.110,12.051,12.125,12.028,12.104,12.038,12.115,
12.106,12.033,12.120,12.044,12.101,12.026,12.117,12.039,12.111,12.048,
12.029,12.107,12.042,12.123,12.035,12.114,12.050,12.102,12.027,12.118,
12.100,12.037,12.116,12.031,12.122,12.046,12.109,12.024,12.115,12.040,
12.049,12.112,12.030,12.119,12.043,11.999,12.105,12.036,12.124,12.028,
12.103,12.041,12.118,12.033,12.108,12.047,12.114,12.029,12.110,12.038,
12.121,12.034,12.106,12.026,12.101,12.045,12.119,12.037,12.112,12.031,
12.044,12.117,12.027,12.109,12.050,12.123,12.032,12.104,12.039,12.115,
12.149,12.036,12.111,12.029,12.120,12.043,12.107,12.025,12.113,12.040,
12.108];
const y5_c6 = [12.042,12.113,12.122,12.034,12.027,12.108,12.050,12.118,12.110,12.037,
12.030,12.111,12.046,12.121,12.116,12.039,12.026,12.104,12.033,12.119,
12.124,12.045,12.028,12.112,12.101,12.036,12.117,12.024,12.048,12.109,
12.115,12.031,12.120,12.043,12.029,12.106,12.140,12.035,12.123,12.049,
12.027,12.114,12.102,12.040,12.118,12.032,12.025,12.110,12.044,12.121,
12.107,12.038,12.030,12.116,12.125,12.046,12.112,12.028,12.034,12.103,
12.119,12.041,12.109,12.026,12.033,12.114,12.122,12.047,12.100,12.029,
12.037,12.117,12.044,12.023,12.111,12.106,12.035,12.120,12.031,12.113,
12.108,12.027,12.118,12.050,12.039,12.124,12.032,12.104,12.115,12.042,
12.030,12.112,12.037,12.121,12.045,12.026,12.109,12.117,12.036,12.105,
12.111];
const y5_c7 = [12.105,12.035,12.119,12.058,12.044,12.112,12.029,12.096,12.124,12.048,
12.088,12.026,12.115,12.067,12.109,12.039,12.101,12.053,12.032,12.121,
12.005,12.099,12.028,12.083,12.117,12.042,12.107,12.034,12.126,12.051,
12.037,12.113,12.070,12.031,12.120,12.046,12.094,12.027,12.118,12.062,
12.104,12.040,12.090,12.122,12.055,12.025,12.111,12.049,12.116,12.033,
12.085,12.024,12.123,12.043,12.108,12.030,12.127,12.064,12.038,12.114,
12.047,12.119,12.027,12.097,12.057,12.125,12.036,12.110,12.041,12.028,
12.116,12.052,12.102,12.031,12.121,12.045,12.092,12.026,12.118,12.060,
12.130,12.038,12.106,12.050,12.124,12.029,12.113,12.043,12.087,12.122,
12.035,12.109,12.048,12.119,12.032,12.101,12.056,12.115,12.030,12.112,
12.108];
const y5_c8 = [12.086,12.054,12.093,12.062,12.099,12.057,12.079,12.091,12.049,12.083,
12.066,12.096,12.059,12.087,12.052,12.098,12.064,12.089,12.051,12.080,
12.094,12.060,12.075,12.092,12.055,12.085,12.047,12.097,12.003,12.088,
12.058,12.090,12.068,12.100,12.053,12.082,12.063,12.095,12.048,12.084,
12.070,12.093,12.056,12.086,12.061,12.099,12.050,12.081,12.065,12.096,
12.054,12.087,12.072,12.094,12.046,12.090,12.059,12.083,12.067,12.098,
12.052,12.085,12.061,12.095,12.130,12.057,12.089,12.048,12.092,12.069,
12.097,12.055,12.084,12.063,12.100,12.050,12.078,12.093,12.058,12.088,
12.066,12.096,12.053,12.082,12.060,12.099,12.047,12.086,12.071,12.094,
12.056,12.091,12.064,12.087,12.049,12.097,12.062,12.080,12.054,12.095,
12.075];

const panelChains = [
  [y1_c1,y1_c2,y1_c3,y1_c4,y1_c5,y1_c6,y1_c7,y1_c8],
  [y2_c1,y2_c2,y2_c3,y2_c4,y2_c5,y2_c6,y2_c7,y2_c8],
  [y3_c1,y3_c2,y3_c3,y3_c4,y3_c5,y3_c6,y3_c7,y3_c8],
  [y4_c1,y4_c2,y4_c3,y4_c4,y4_c5,y4_c6,y4_c7,y4_c8],
  [y5_c1,y5_c2,y5_c3,y5_c4,y5_c5,y5_c6,y5_c7,y5_c8]
];
const panelTicks = [yTicks1,yTicks2,yTicks3,yTicks4,yTicks5];
const panelLabels = [yLabels1,yLabels2,yLabels3,yLabels4,yLabels5];
const panelRanges = [yRange1,yRange2,yRange3,yRange4,yRange5];

// layout (px)
const PANEL_STEP = 415.67;
const CANVAS_H = 416;
const GRID = '#EBEBEB';

Chart.defaults.font.family = FONT;

// x grid: majors every 1000, minors in between
const xGrid = [];
for (let k = 0; k <= 10; k++) xGrid.push(k * 500);

panelTitles.forEach((title, p) => {
  const wrap = document.createElement('div');
  wrap.className = 'panel';
  wrap.style.top = (p * PANEL_STEP) + 'px';
  wrap.style.height = CANVAS_H + 'px';
  const canvas = document.createElement('canvas');
  canvas.width = 2099;
  canvas.height = CANVAS_H;
  wrap.appendChild(canvas);
  document.body.appendChild(wrap);

  const major = panelTicks[p];
  const step = major[1] - major[0];
  const range = panelRanges[p];
  const yGrid = [];
  for (let k = -1; k <= 2 * (major.length - 1) + 1; k++) {
    const v = major[0] + k * step / 2;
    if (v >= range[0] && v <= range[1]) yGrid.push(v);
  }
  const majorIndex = v => major.findIndex(m => Math.abs(m - v) < step * 1e-3);

  const datasets = panelChains[p].map((vals, c) => ({
    label: chainNames[c],
    data: iterations.map((it, i) => ({x: it, y: vals[i]})),
    borderColor: chainColors[c],
    borderWidth: 2.8,
    borderJoinStyle: 'round',
    pointRadius: 0,
    tension: 0,
    order: 8 - c
  }));

  new Chart(canvas, {
    type: 'line',
    data: {datasets: datasets},
    options: {
      responsive: false,
      animation: false,
      devicePixelRatio: 1,
      layout: {padding: {top: 38.6, left: 0, right: 234.2, bottom: 0}},
      plugins: {
        legend: {display: false},
        tooltip: {enabled: false},
        title: {
          display: true,
          fullSize: false,
          text: title,
          color: '#1A1A1A',
          font: {size: 36, weight: 'normal', lineHeight: 1.2},
          padding: {top: 0, bottom: 11.5}
        }
      },
      scales: {
        x: {
          type: 'linear',
          min: -250,
          max: 5250,
          afterBuildTicks: s => { s.ticks = xGrid.map(v => ({value: v})); },
          afterFit: s => { s.height = 56; },
          ticks: {
            autoSkip: false,
            maxRotation: 0,
            padding: 13.4,
            color: '#4D4D4D',
            font: {size: 36},
            callback: v => xTicks.includes(v) ? String(v) : ''
          },
          grid: {
            color: GRID,
            lineWidth: c => (c.tick && c.tick.value % 1000 === 0) ? 3.4 : 1.8,
            drawTicks: false
          },
          border: {display: false}
        },
        y: {
          type: 'linear',
          min: range[0],
          max: range[1],
          afterBuildTicks: s => { s.ticks = yGrid.map(v => ({value: v})); },
          afterFit: s => { s.width = 134.8; },
          ticks: {
            autoSkip: false,
            padding: 23,
            color: '#4D4D4D',
            font: {size: 36},
            callback: v => {
              const i = majorIndex(v);
              return i >= 0 ? panelLabels[p][i] : '';
            }
          },
          grid: {
            color: GRID,
            lineWidth: c => (c.tick && majorIndex(c.tick.value) >= 0) ? 3.4 : 1.8,
            drawTicks: false
          },
          border: {display: false}
        }
      }
    }
  });
});

// legend
const LEG_Y0 = 838.4;
const LEG_STEP = 71.94;
const legTitle = document.createElement('div');
legTitle.className = 'legend-title';
legTitle.textContent = 'Chain';
document.body.appendChild(legTitle);
chainNames.forEach((name, c) => {
  const yc = LEG_Y0 + c * LEG_STEP;
  const key = document.createElement('div');
  key.className = 'legend-key';
  key.style.top = (yc - 1.5) + 'px';
  key.style.background = chainColors[c];
  document.body.appendChild(key);
  const lab = document.createElement('div');
  lab.className = 'legend-label';
  lab.style.top = (yc - 17.6) + 'px';
  lab.textContent = name;
  document.body.appendChild(lab);
});
</script>
</body>
</html>
